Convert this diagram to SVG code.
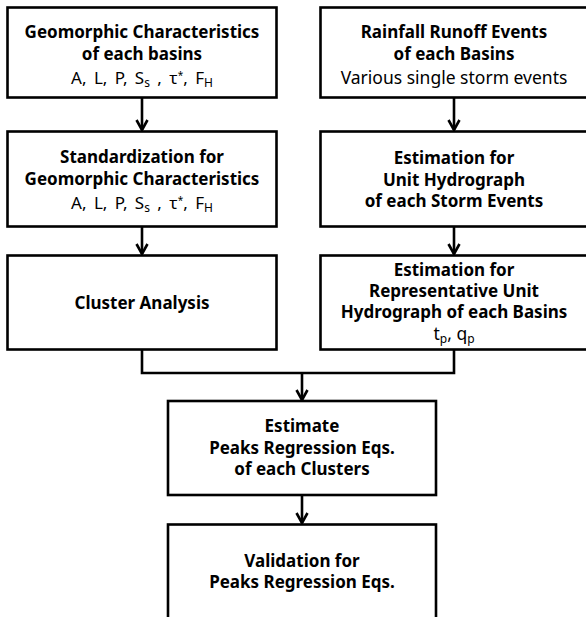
<svg xmlns="http://www.w3.org/2000/svg" width="586" height="617" viewBox="0 0 586 617">
<defs>
<style>
.box{fill:#fff;stroke:#000;stroke-width:2.6}
.t{font-family:"Noto Sans","Open Sans","Liberation Sans",sans-serif;font-size:17px;text-anchor:middle;fill:#000}
.b{font-weight:bold}
.r{font-weight:normal;font-size:17.5px}
.m{font-weight:normal;font-size:17px;word-spacing:3px}
.sub{font-size:12px}
.sup{font-size:10px}
.con{fill:none;stroke:#000;stroke-width:2.6}
</style>
<marker id="ah" viewBox="0 0 14 14" refX="12" refY="7" markerWidth="14" markerHeight="14" markerUnits="userSpaceOnUse" orient="auto">
<path d="M2,1.5 L12,7 L2,12.5" fill="none" stroke="#000" stroke-width="2.6"/>
</marker>
</defs>
<rect width="586" height="617" fill="#fff"/>
<g id="connectors">
<line class="con" x1="142" y1="97.5" x2="142" y2="130" marker-end="url(#ah)"/>
<line class="con" x1="142" y1="227" x2="142" y2="254" marker-end="url(#ah)"/>
<line class="con" x1="454" y1="97.5" x2="454" y2="130" marker-end="url(#ah)"/>
<line class="con" x1="454" y1="227" x2="454" y2="254" marker-end="url(#ah)"/>
<path class="con" d="M142,350 V373 H454 V350"/>
<line class="con" x1="302" y1="373" x2="302" y2="400" marker-end="url(#ah)"/>
<line class="con" x1="302" y1="495" x2="302" y2="523" marker-end="url(#ah)"/>
</g>
<g id="n1">
<rect class="box" x="7.5" y="7.5" width="269" height="90"/>
<text class="t b" x="142" y="38">Geomorphic Characteristics</text>
<text class="t b" x="142" y="60">of each basins</text>
<text class="t m" x="142" y="84">A, L, P, S<tspan class="sub" dy="3">s</tspan><tspan dy="-3"> , τ</tspan><tspan class="sup" dy="-5">*</tspan><tspan dy="5">, F</tspan><tspan class="sub" dy="3">H</tspan></text>
</g>
<g id="n2">
<rect class="box" x="320.5" y="7.5" width="267" height="90"/>
<text class="t b" x="454" y="38">Rainfall Runoff Events</text>
<text class="t b" x="454" y="60">of each Basins</text>
<text class="t r" x="454" y="84">Various single storm events</text>
</g>
<g id="n3">
<rect class="box" x="7.5" y="131.5" width="269" height="95"/>
<text class="t b" x="142" y="163">Standardization for</text>
<text class="t b" x="142" y="185">Geomorphic Characteristics</text>
<text class="t m" x="142" y="209">A, L, P, S<tspan class="sub" dy="3">s</tspan><tspan dy="-3"> , τ</tspan><tspan class="sup" dy="-5">*</tspan><tspan dy="5">, F</tspan><tspan class="sub" dy="3">H</tspan></text>
</g>
<g id="n4">
<rect class="box" x="320.5" y="131.5" width="267" height="95"/>
<text class="t b" x="454" y="164">Estimation for</text>
<text class="t b" x="454" y="186">Unit Hydrograph</text>
<text class="t b" x="454" y="207">of each Storm Events</text>
</g>
<g id="n5">
<rect class="box" x="7.5" y="255.5" width="269" height="94"/>
<text class="t b" x="142" y="309">Cluster Analysis</text>
</g>
<g id="n6">
<rect class="box" x="320.5" y="255.5" width="267" height="94"/>
<text class="t b" x="454" y="276">Estimation for</text>
<text class="t b" x="454" y="297">Representative Unit</text>
<text class="t b" x="454" y="318">Hydrograph of each Basins</text>
<text class="t r" x="454" y="340">t<tspan class="sub" dy="3">p</tspan><tspan dy="-3">, q</tspan><tspan class="sub" dy="3">p</tspan></text>
</g>
<g id="n7">
<rect class="box" x="168" y="401" width="268" height="94"/>
<text class="t b" x="302" y="432">Estimate</text>
<text class="t b" x="302" y="454">Peaks Regression Eqs.</text>
<text class="t b" x="302" y="475">of each Clusters</text>
</g>
<g id="n8">
<rect class="box" x="168" y="524.5" width="268" height="110"/>
<text class="t b" x="302" y="567">Validation for</text>
<text class="t b" x="302" y="588">Peaks Regression Eqs.</text>
</g>
</svg>
